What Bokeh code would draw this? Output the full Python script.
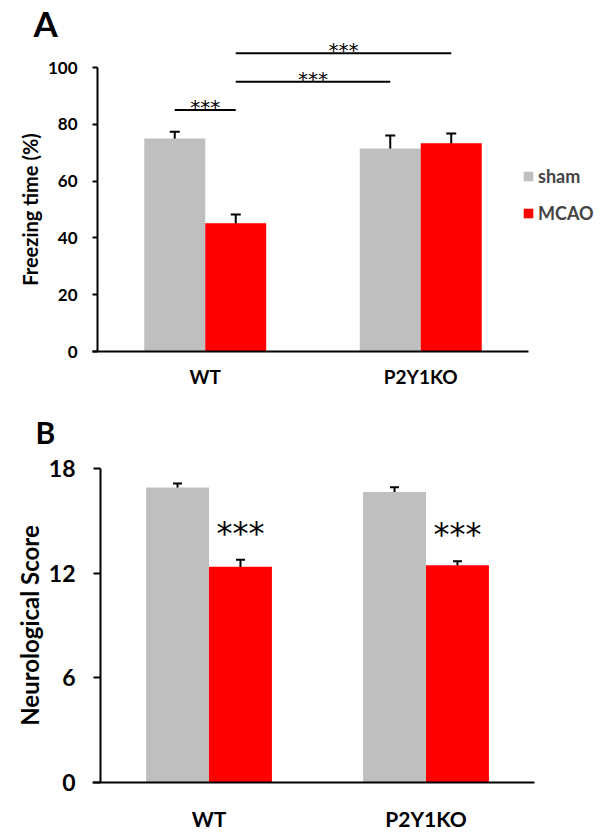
from bokeh.plotting import figure
from bokeh.models import (ColumnDataSource, Range1d, FixedTicker, Whisker, TeeHead,
                          Label, Legend, LegendItem)
from bokeh.layouts import column
from bokeh.embed import file_html
from bokeh.resources import INLINE
from bokeh.core.properties import value

# ---------------- data ----------------
groups = ["WT", "P2Y1KO"]
series = ["sham", "MCAO"]
colors = ["#BFBFBF", "#FF0000"]

freeze_sham = [75.0, 71.5]
freeze_sham_err = [2.4, 4.6]
freeze_mcao = [45.2, 73.3]
freeze_mcao_err = [3.0, 3.5]
freeze_ticks = [0, 20, 40, 60, 80, 100]
freeze_sig_from = [(0, 0), (0, 1), (0, 1)]   # (group index, series index)
freeze_sig_to = [(0, 1), (1, 0), (1, 1)]
freeze_sig_y = [85, 95, 105]
freeze_sig_text = ["***", "***", "***"]

neuro_sham = [16.9, 16.65]
neuro_sham_err = [0.23, 0.27]
neuro_mcao = [12.37, 12.45]
neuro_mcao_err = [0.39, 0.23]
neuro_ticks = [0, 6, 12, 18]
neuro_sig_text = ["***", "***"]

FONT = "Lato"
STAR_FONT = "DejaVu Sans"
W = 596


def style_axes(p, yticks, ybound, tick_size, cat_size, ylabel, ylabel_size,
               tick_out, ylab_standoff, ylabel_standoff, xlab_standoff, xstart):
    p.xgrid.visible = False
    p.ygrid.visible = False
    p.outline_line_color = None
    p.background_fill_color = "white"
    for ax in (p.xaxis[0], p.yaxis[0]):
        ax.fixed_location = 0
        ax.axis_line_width = 2
        ax.axis_line_color = "black"
        ax.minor_tick_line_color = None
        ax.major_label_text_font = FONT
        ax.major_label_text_font_style = "bold"
        ax.major_label_text_color = "black"
    y = p.yaxis[0]
    y.ticker = FixedTicker(ticks=yticks)
    y.bounds = (0, ybound)
    y.major_tick_line_width = 2
    y.major_tick_out = tick_out
    y.major_tick_in = 0
    y.major_label_text_font_size = tick_size
    y.major_label_standoff = ylab_standoff
    y.axis_label = ylabel
    y.axis_label_text_font = FONT
    y.axis_label_text_font_style = "bold"
    y.axis_label_text_font_size = ylabel_size
    y.axis_label_text_color = "black"
    y.axis_label_standoff = ylabel_standoff
    x = p.xaxis[0]
    x.ticker = FixedTicker(ticks=[i + 0.5 for i in range(len(groups))])
    x.major_label_overrides = {i + 0.5: g for i, g in enumerate(groups)}
    x.bounds = (xstart, len(groups))
    x.major_tick_line_color = None
    x.major_tick_out = 0
    x.major_tick_in = 0
    x.major_label_text_font_size = cat_size
    x.major_label_standoff = xlab_standoff


def add_bars(p, vals_list, errs_list, bw, head):
    rends = []
    for si, (vals, errs) in enumerate(zip(vals_list, errs_list)):
        xs = [i + 0.5 + (si - 0.5) * bw for i in range(len(groups))]
        src = ColumnDataSource(dict(
            x=xs, top=vals,
            upper=[v + e for v, e in zip(vals, errs)],
            lower=[v - e for v, e in zip(vals, errs)]))
        r = p.vbar(x="x", top="top", width=bw, source=src,
                   fill_color=colors[si], line_color=None)
        rends.append(r)
        p.add_layout(Whisker(source=src, base="x", upper="upper", lower="lower",
                             line_width=2, line_color="black",
                             upper_head=TeeHead(size=head, line_width=2),
                             lower_head=TeeHead(size=head, line_width=2)))
    return rends


# ---------------- panel A ----------------
pxA, pyA = 215.5, 2.84          # pixels per data unit
axA_x, axA_y = 97, 351          # page position of the data origin
hA = 400
p1 = figure(width=W, height=hA,
            x_range=Range1d(-axA_x / pxA, (W - axA_x) / pxA),
            y_range=Range1d(-(hA - axA_y) / pyA, axA_y / pyA),
            output_backend="svg", toolbar_location=None,
            min_border_left=0, min_border_right=0,
            min_border_top=0, min_border_bottom=0)
bwA = 0.283
rA = add_bars(p1, [freeze_sham, freeze_mcao], [freeze_sham_err, freeze_mcao_err], bwA, 10)
style_axes(p1, freeze_ticks, 100, "17px", "19px", "Freezing time (%)", "20px",
           5, 15, 3, 13, -5 / pxA)

x0 = [g + 0.5 + (s - 0.5) * bwA for g, s in freeze_sig_from]
x1 = [g + 0.5 + (s - 0.5) * bwA for g, s in freeze_sig_to]
p1.segment(x0=x0, y0=freeze_sig_y, x1=x1, y1=freeze_sig_y,
           line_width=2, line_color="black")
p1.text(x=[(a + b) / 2 for a, b in zip(x0, x1)], y=freeze_sig_y, text=freeze_sig_text,
        text_align="center", text_baseline="alphabetic", y_offset=-3,
        text_font=value(STAR_FONT), text_font_size="20px", text_color="black")

legA = Legend(items=[LegendItem(label=series[0], renderers=[rA[0]]),
                     LegendItem(label=series[1], renderers=[rA[1]])],
              location=(522, 127 + (hA - axA_y)), glyph_width=12, glyph_height=12,
              label_text_font=FONT, label_text_font_size="18px",
              label_text_font_style="bold", label_standoff=4,
              spacing=15, padding=0, margin=0,
              border_line_alpha=0, background_fill_alpha=0)
p1.add_layout(legA)

p1.add_layout(Label(x=(33 - axA_x) / pxA, y=(axA_y - 1) / pyA, text="A",
                    text_font=FONT, text_font_size="35px", text_font_style="bold",
                    text_baseline="top", text_color="black"))

# ---------------- panel B ----------------
pxB, pyB = 217.0, 17.45
axB_x, axB_y = 100, 782 - hA    # origin relative to this figure's top
hB = 434
p2 = figure(width=W, height=hB,
            x_range=Range1d(-axB_x / pxB, (W - axB_x) / pxB),
            y_range=Range1d(-(hB - axB_y) / pyB, axB_y / pyB),
            output_backend="svg", toolbar_location=None,
            min_border_left=0, min_border_right=0,
            min_border_top=0, min_border_bottom=0)
bwB = 0.29
add_bars(p2, [neuro_sham, neuro_mcao], [neuro_sham_err, neuro_mcao_err], bwB, 9)
style_axes(p2, neuro_ticks, 18, "23px", "21px", "Neurological Score", "24px",
           7, 18, 2, 23, -8 / pxB)

p2.text(x=[i + 0.5 + 0.5 * bwB for i in range(len(groups))],
        y=[v + e for v, e in zip(neuro_mcao, neuro_mcao_err)], text=neuro_sig_text,
        text_align="center", text_baseline="alphabetic", y_offset=-27,
        text_font=value(STAR_FONT), text_font_size="32px", text_color="black")

p2.add_layout(Label(x=(35 - axB_x) / pxB, y=(axB_y - (431 - hA)) / pyB, text="B",
                    text_font=FONT, text_font_size="30px", text_font_style="bold",
                    text_baseline="alphabetic", text_color="black"))

layout = column(p1, p2, spacing=0)
open("out.html", "w").write(file_html(layout, INLINE))
